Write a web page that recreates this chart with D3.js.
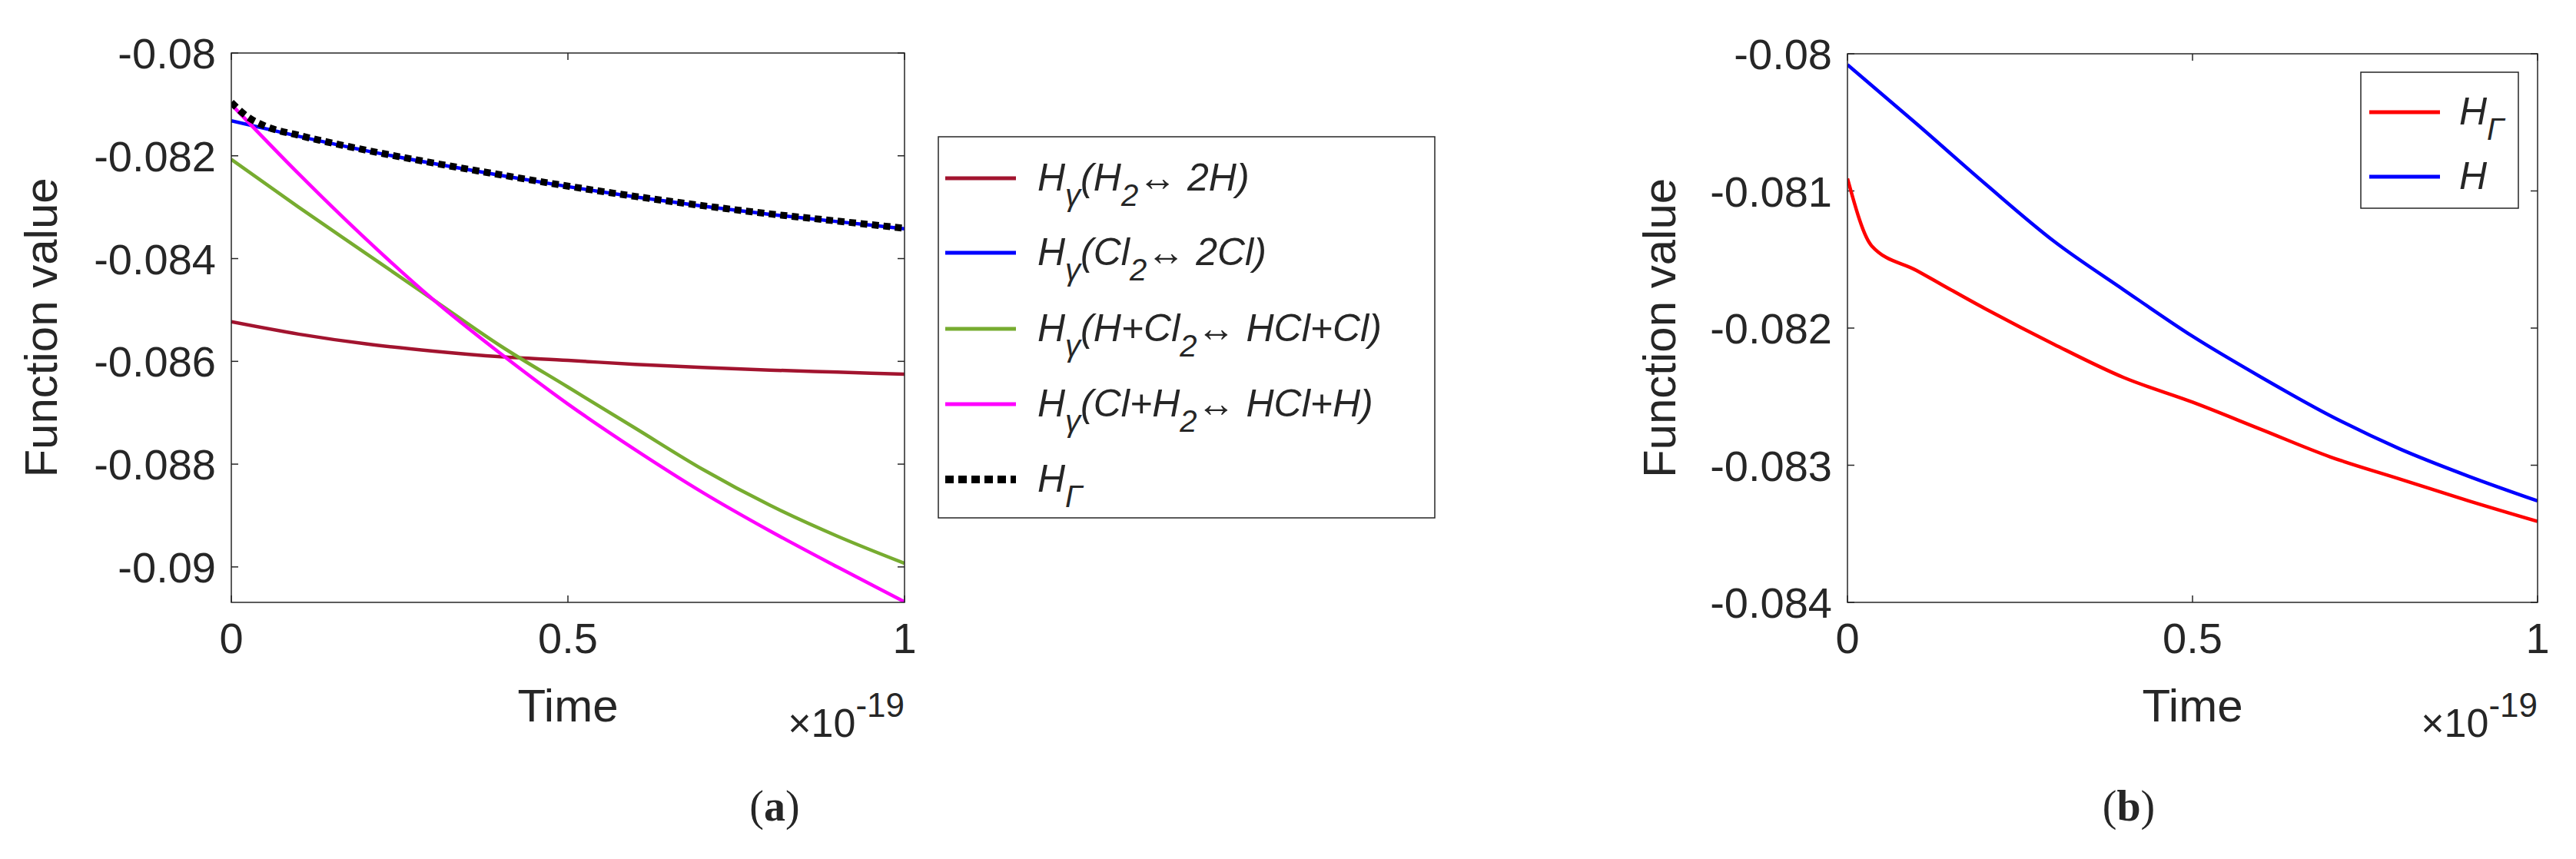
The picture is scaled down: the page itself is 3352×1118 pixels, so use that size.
<!DOCTYPE html>
<html><head><meta charset="utf-8">
<script src="https://cdn.jsdelivr.net/npm/d3@7"></script>
<style>
body{margin:0;background:#fff}
text{font-family:"Liberation Sans Narrow","Liberation Sans",Arial,sans-serif;fill:#262626}
</style></head><body>
<svg id="c" width="3352" height="1118"></svg>
<script>
// panel (a) series, x in units of 1e-19
var tA = [0, 0.1, 0.2, 0.3, 0.4, 0.5, 0.6, 0.7, 0.8, 0.9, 1];
var h2 = [-0.08523, -0.08547, -0.08566, -0.08580, -0.08591, -0.08598, -0.08606, -0.08612, -0.08617, -0.08621, -0.08625];
var cl2 = [-0.08132, -0.08162, -0.08190, -0.08215, -0.08238, -0.08260, -0.08280, -0.08298, -0.08314, -0.08328, -0.08342];
var hcl2 = [-0.08207, -0.08300, -0.08390, -0.08480, -0.08570, -0.08650, -0.08730, -0.08810, -0.08880, -0.08940, -0.08993];
var clh2 = [-0.08100, -0.08235, -0.08362, -0.08480, -0.08585, -0.08683, -0.08772, -0.08855, -0.08930, -0.09000, -0.09068];
var tG = [0, 0.025, 0.05, 0.1, 0.2, 0.3, 0.4, 0.5, 0.6, 0.7, 0.8, 0.9, 1];
var hG = [-0.08096, -0.08125, -0.08142, -0.08160, -0.08189, -0.08214, -0.08237, -0.08259, -0.08279, -0.08297, -0.08313, -0.08327, -0.08341];
var yTicksA = [-0.08, -0.082, -0.084, -0.086, -0.088, -0.09];
// panel (b)
var tB = [0, 0.1, 0.2, 0.3, 0.4, 0.5, 0.6, 0.7, 0.8, 0.9, 1];
var hB = [-0.08008, -0.08051, -0.08095, -0.08137, -0.08172, -0.08206, -0.08236, -0.08264, -0.08288, -0.08308, -0.08326];
var tBG = [0, 0.035, 0.1, 0.2, 0.3, 0.4, 0.5, 0.6, 0.7, 0.8, 0.9, 1];
var hBG = [-0.08091, -0.08140, -0.08158, -0.08186, -0.08212, -0.08236, -0.08254, -0.08274, -0.08294, -0.08310, -0.08326, -0.08341];
var yTicksB = [-0.08, -0.081, -0.082, -0.083, -0.084];
var xTicks = [0, 0.5, 1];

var svg = d3.select("#c");
var FS = 56;

function panel(o) {
  var x = d3.scaleLinear().domain([0, 1]).range([o.l, o.r]);
  var y = d3.scaleLinear().domain(o.yd).range([o.b, o.t]);
  var g = svg.append("g");
  var defs = svg.append("defs");
  defs.append("clipPath").attr("id", o.id).append("rect")
    .attr("x", o.l).attr("y", o.t - 4).attr("width", o.r - o.l).attr("height", o.b - o.t + 4);
  o.yTicks.forEach(function (v) {
    g.append("line").attr("x1", o.l).attr("x2", o.l + 9).attr("y1", y(v)).attr("y2", y(v)).attr("stroke", "#262626").attr("stroke-width", 1.5);
    g.append("line").attr("x1", o.r).attr("x2", o.r - 9).attr("y1", y(v)).attr("y2", y(v)).attr("stroke", "#262626").attr("stroke-width", 1.5);
    g.append("text").attr("x", o.l - 20).attr("y", y(v) + 20).attr("text-anchor", "end").attr("font-size", FS).text(String(v));
  });
  xTicks.forEach(function (v) {
    g.append("line").attr("x1", x(v)).attr("x2", x(v)).attr("y1", o.b).attr("y2", o.b - 9).attr("stroke", "#262626").attr("stroke-width", 1.5);
    g.append("line").attr("x1", x(v)).attr("x2", x(v)).attr("y1", o.t).attr("y2", o.t + 9).attr("stroke", "#262626").attr("stroke-width", 1.5);
    g.append("text").attr("x", x(v)).attr("y", o.b + 66).attr("text-anchor", "middle").attr("font-size", FS).text(String(v));
  });
  var line = d3.line().x(function (d) { return x(d[0]); }).y(function (d) { return y(d[1]); }).curve(d3.curveMonotoneX);
  var lg = g.append("g").attr("clip-path", "url(#" + o.id + ")");
  o.series.forEach(function (s) {
    lg.append("path").attr("d", line(d3.zip(s.t, s.v).map(function (p) { return p; })))
      .attr("fill", "none").attr("stroke", s.c).attr("stroke-width", s.w)
      .attr("stroke-dasharray", s.dash || null);
  });
  g.append("rect").attr("x", o.l).attr("y", o.t).attr("width", o.r - o.l).attr("height", o.b - o.t)
    .attr("fill", "none").attr("stroke", "#262626").attr("stroke-width", 1.5);
  g.append("text").attr("transform", "translate(" + o.yl + "," + ((o.t + o.b) / 2) + ") rotate(-90)")
    .attr("text-anchor", "middle").attr("font-size", 60).text("Function value");
  g.append("text").attr("x", (o.l + o.r) / 2).attr("y", o.b + 155).attr("text-anchor", "middle").attr("font-size", 60).text("Time");
  var e = g.append("text").attr("x", o.r).attr("y", o.b + 175).attr("text-anchor", "end").attr("font-size", 52);
  e.append("tspan").text("\u00d710");
  e.append("tspan").attr("dy", -26).attr("font-size", 44).text("-19");
  svg.append("text").attr("x", o.lab).attr("y", 1068).attr("text-anchor", "middle")
    .style("font-family", "'Liberation Serif',serif").attr("font-size", 56).html("(<tspan font-weight='bold'>" + o.letter + "</tspan>)");
  return { x: x, y: y };
}

panel({
  id: "ca", l: 301, r: 1177, t: 69, b: 784, yd: [-0.09069, -0.08], yTicks: yTicksA, yl: 74, lab: 1008, letter: "a",
  series: [
    { t: tA, v: h2, c: "#a2142f", w: 4.5 },
    { t: tA, v: cl2, c: "#0000ff", w: 4.5 },
    { t: tA, v: hcl2, c: "#77ac30", w: 4.5 },
    { t: tA, v: clh2, c: "#ff00ff", w: 4.5 },
    { t: tG, v: hG, c: "#000", w: 9, dash: "9,6" }
  ]
});
panel({
  id: "cb", l: 2404, r: 3302, t: 70, b: 784, yd: [-0.084, -0.08], yTicks: yTicksB, yl: 2180, lab: 2770, letter: "b",
  series: [
    { t: tB, v: hB, c: "#0000ff", w: 4.5 },
    { t: tBG, v: hBG, c: "#ff0000", w: 4.5 }
  ]
});

// legend text pieces: [text, kind] kind: n normal, s subscript
var legA = [
  { c: "#a2142f", w: 5, p: [["H"], ["\u03b3", "s"], ["(H"], ["2", "s"], ["\u2194 2H)"]] },
  { c: "#0000ff", w: 5, p: [["H"], ["\u03b3", "s"], ["(Cl"], ["2", "s"], ["\u2194 2Cl)"]] },
  { c: "#77ac30", w: 5, p: [["H"], ["\u03b3", "s"], ["(H+Cl"], ["2", "s"], ["\u2194 HCl+Cl)"]] },
  { c: "#ff00ff", w: 5, p: [["H"], ["\u03b3", "s"], ["(Cl+H"], ["2", "s"], ["\u2194 HCl+H)"]] },
  { c: "#000", w: 10, dash: "11,6", p: [["H"], ["\u0393", "s"]] }
];
var legB = [
  { c: "#ff0000", w: 5, p: [["H"], ["\u0393", "s"]] },
  { c: "#0000ff", w: 5, p: [["H"]] }
];
function legend(items, x0, y0, w, h, rows, lx1, lx2, tx) {
  var g = svg.append("g");
  g.append("rect").attr("x", x0).attr("y", y0).attr("width", w).attr("height", h).attr("fill", "#fff").attr("stroke", "#262626").attr("stroke-width", 1.5);
  items.forEach(function (it, i) {
    var yy = rows[i];
    g.append("line").attr("x1", lx1).attr("x2", lx2).attr("y1", yy).attr("y2", yy).attr("stroke", it.c).attr("stroke-width", it.w).attr("stroke-dasharray", it.dash || null);
    var t = g.append("text").attr("x", tx).attr("y", yy + 16).attr("font-size", 50).attr("font-style", "italic");
    var sub = false;
    it.p.forEach(function (p) {
      var s = t.append("tspan").text(p[0]);
      if (p[1] === "s" && !sub) { s.attr("dy", 20).attr("font-size", 40); sub = true; }
      else if (p[1] !== "s" && sub) { s.attr("dy", -20); sub = false; }
      else if (p[1] === "s") { s.attr("font-size", 40); }
    });
  });
}
legend(legA, 1221, 178, 646, 496, [232, 329, 428, 526, 624], 1230, 1322, 1350);
legend(legB, 3072, 94, 205, 177, [146, 230], 3083, 3175, 3200);
</script></body></html>
